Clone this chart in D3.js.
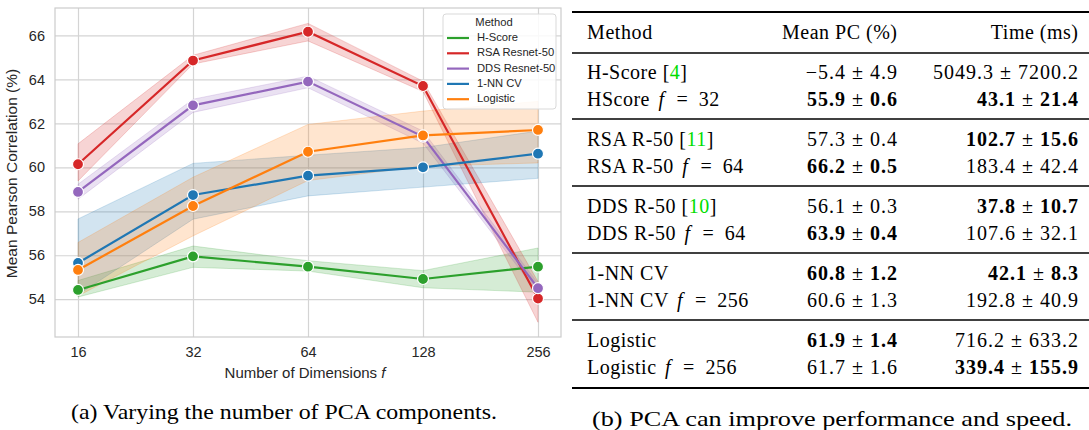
<!DOCTYPE html>
<html>
<head>
<meta charset="utf-8">
<script src="https://cdn.jsdelivr.net/npm/d3@7"></script>
<style>
  body { margin: 0; background: #fff; }
  .tick text { font-family: "Liberation Sans", Arial, sans-serif; fill: #262626; }
  .tbl { font-family: "Liberation Serif", "Times New Roman", serif; fill: #000; }
</style>
</head>
<body>
<svg id="chart" width="1089" height="430"></svg>
<script>
// ---- plot data ----
const dims = [16, 32, 64, 128, 256];
const methods = ["H-Score", "RSA Resnet-50", "DDS Resnet-50", "1-NN CV", "Logistic"];
const colors = ["#2ca02c", "#d62728", "#9467bd", "#1f77b4", "#ff7f0e"];

const hscoreMean = [54.42, 55.95, 55.48, 54.92, 55.48];
const hscoreLo   = [54.10, 55.45, 55.28, 54.52, 54.32];
const hscoreHi   = [54.85, 56.42, 55.75, 55.30, 56.33];

const rsaMean = [60.14, 64.86, 66.17, 63.70, 54.03];
const rsaLo   = [59.38, 64.70, 65.75, 63.45, 52.95];
const rsaHi   = [61.07, 65.10, 66.55, 63.92, 54.80];

const ddsMean = [58.88, 62.82, 63.90, 61.40, 54.50];
const ddsLo   = [58.55, 62.50, 63.62, 61.10, 54.28];
const ddsHi   = [59.23, 63.10, 64.15, 61.65, 54.72];

const knnMean = [55.65, 58.74, 59.62, 60.00, 60.62];
const knnLo   = [54.20, 57.64, 58.70, 59.10, 59.50];
const knnHi   = [57.65, 60.18, 60.55, 60.90, 61.65];

const logMean = [55.33, 58.24, 60.71, 61.45, 61.70];
const logLo   = [54.15, 56.88, 59.40, 60.05, 60.20];
const logHi   = [56.58, 59.55, 61.95, 62.56, 63.00];

const yTicks = [54, 56, 58, 60, 62, 64, 66];

// ---- table data ----
const rowNames = ["H-Score", "HScore", "RSA R-50", "RSA R-50", "DDS R-50", "DDS R-50", "1-NN CV", "1-NN CV", "Logistic", "Logistic"];
const rowCite  = ["4", null, "11", null, "10", null, null, null, null, null];
const rowF     = [null, 32, null, 64, null, 64, null, 256, null, 256];
const pcMean   = [-5.4, 55.9, 57.3, 66.2, 56.1, 63.9, 60.8, 60.6, 61.9, 61.7];
const pcStd    = [4.9, 0.6, 0.4, 0.5, 0.3, 0.4, 1.2, 1.3, 1.4, 1.6];
const pcBold   = [0, 1, 0, 1, 0, 1, 1, 0, 1, 0];
const timeMean = [5049.3, 43.1, 102.7, 183.4, 37.8, 107.6, 42.1, 192.8, 716.2, 339.4];
const timeStd  = [7200.2, 21.4, 15.6, 42.4, 10.7, 32.1, 8.3, 40.9, 633.2, 155.9];
const timeBold = [0, 1, 1, 0, 1, 0, 1, 0, 0, 1];

const series = [
  {mean: hscoreMean, lo: hscoreLo, hi: hscoreHi},
  {mean: rsaMean, lo: rsaLo, hi: rsaHi},
  {mean: ddsMean, lo: ddsLo, hi: ddsHi},
  {mean: knnMean, lo: knnLo, hi: knnHi},
  {mean: logMean, lo: logLo, hi: logHi}
];

const svg = d3.select("#chart");

// plot box
const box = { left: 55, right: 561, top: 8, bottom: 337 };

const x = d3.scaleLog().base(2)
    .domain([16 / Math.pow(2, 0.2), 256 * Math.pow(2, 0.2)])
    .range([box.left, box.right]);
const y = d3.scaleLinear()
    .domain([52.28, 67.25])
    .range([box.bottom, box.top]);

const plot = svg.append("g");

// grid + axes
plot.append("g")
    .attr("transform", `translate(0,${box.bottom})`)
    .call(d3.axisBottom(x).tickValues(dims).tickFormat(d3.format("d"))
        .tickSize(-(box.bottom - box.top)).tickPadding(10))
    .call(g => g.select(".domain").remove())
    .call(g => g.selectAll(".tick line").attr("stroke", "#d4d4d4").attr("stroke-width", 1.2))
    .call(g => g.selectAll(".tick text").attr("font-size", 14.5));

plot.append("g")
    .attr("transform", `translate(${box.left},0)`)
    .call(d3.axisLeft(y).tickValues(yTicks).tickFormat(d3.format("d"))
        .tickSize(-(box.right - box.left)).tickPadding(10))
    .call(g => g.select(".domain").remove())
    .call(g => g.selectAll(".tick line").attr("stroke", "#d4d4d4").attr("stroke-width", 1.2))
    .call(g => g.selectAll(".tick text").attr("font-size", 14.5));

plot.append("rect")
    .attr("x", box.left).attr("y", box.top)
    .attr("width", box.right - box.left).attr("height", box.bottom - box.top)
    .attr("fill", "none").attr("stroke", "#cccccc").attr("stroke-width", 1.2);

// axis titles
plot.append("text")
    .attr("transform", `translate(13,${(box.top + box.bottom) / 2 + 1}) rotate(-90)`)
    .attr("text-anchor", "middle")
    .attr("dominant-baseline", "middle")
    .attr("font-family", "Liberation Sans, Arial, sans-serif")
    .attr("font-size", 15.5)
    .attr("fill", "#262626")
    .text("Mean Pearson Correlation (%)");

const xt = plot.append("text")
    .attr("x", x(64) - 3).attr("y", 378)
    .attr("text-anchor", "middle")
    .attr("font-family", "Liberation Sans, Arial, sans-serif")
    .attr("font-size", 15)
    .attr("fill", "#262626");
xt.append("tspan").text("Number of Dimensions ");
xt.append("tspan").attr("font-style", "italic").text("f");

// bands
const area = d3.area()
    .x((d, i) => x(dims[i]))
    .y0(d => y(d[0]))
    .y1(d => y(d[1]));
const line = d3.line()
    .x((d, i) => x(dims[i]))
    .y(d => y(d));

series.forEach((s, k) => {
  plot.append("path")
      .datum(s.lo.map((v, i) => [v, s.hi[i]]))
      .attr("d", area)
      .attr("fill", colors[k])
      .attr("fill-opacity", 0.2)
      .attr("stroke", colors[k])
      .attr("stroke-opacity", 0.2)
      .attr("stroke-width", 1);
});

series.forEach((s, k) => {
  plot.append("path")
      .datum(s.mean)
      .attr("d", line)
      .attr("fill", "none")
      .attr("stroke", colors[k])
      .attr("stroke-width", 2.2);
  plot.selectAll(null)
      .data(s.mean)
      .enter()
      .append("circle")
      .attr("cx", (d, i) => x(dims[i]))
      .attr("cy", d => y(d))
      .attr("r", 5.5)
      .attr("fill", colors[k])
      .attr("stroke", "#fff")
      .attr("stroke-width", 1.2);
});

// legend
const leg = plot.append("g").attr("transform", "translate(443,14)");
leg.append("rect")
    .attr("width", 113).attr("height", 95).attr("rx", 3)
    .attr("fill", "#fff").attr("fill-opacity", 0.85)
    .attr("stroke", "#d9d9d9").attr("stroke-width", 1);
leg.append("text")
    .attr("x", 51).attr("y", 9)
    .attr("text-anchor", "middle").attr("dominant-baseline", "middle")
    .attr("font-family", "Liberation Sans, Arial, sans-serif")
    .attr("font-size", 11.2).attr("fill", "#262626")
    .text("Method");
methods.forEach((m, k) => {
  const ly = 24 + k * 15.3;
  leg.append("line")
      .attr("x1", 4).attr("x2", 26).attr("y1", ly).attr("y2", ly)
      .attr("stroke", colors[k]).attr("stroke-width", 2.2);
  leg.append("text")
      .attr("x", 34).attr("y", ly)
      .attr("dominant-baseline", "middle")
      .attr("font-family", "Liberation Sans, Arial, sans-serif")
      .attr("font-size", 11.2).attr("fill", "#262626")
      .text(m);
});

// caption (a)
svg.append("text")
    .attr("class", "tbl")
    .attr("x", 71).attr("y", 419)
    .attr("font-size", 22)
    .attr("textLength", 426)
    .attr("lengthAdjust", "spacingAndGlyphs")
    .text("(a) Varying the number of PCA components.");

// ---- table ----
const tbl = svg.append("g").attr("class", "tbl").attr("font-size", 20);
const colMethod = 587, colPC = 897, colTime = 1078;
const tLeft = 572, tRight = 1089;

function rule(yy, w) {
  tbl.append("line")
      .attr("x1", tLeft).attr("x2", tRight)
      .attr("y1", yy).attr("y2", yy)
      .attr("stroke", "#000").attr("stroke-width", w);
}
rule(12, 2.2);
rule(53, 1.4);
[119, 186, 253, 320].forEach(r => rule(r, 1.4));
rule(388, 2.2);

tbl.append("text").attr("class", "tbl").attr("x", colMethod).attr("y", 39)
    .attr("letter-spacing", 0.6).text("Method");
tbl.append("text").attr("class", "tbl").attr("x", colPC + 0.5).attr("y", 39)
    .attr("letter-spacing", 0.5).attr("text-anchor", "end").text("Mean PC (%)");
tbl.append("text").attr("class", "tbl").attr("x", colTime + 0.5).attr("y", 39)
    .attr("letter-spacing", 0.5).attr("text-anchor", "end").text("Time (ms)");

function fmt(v) { return (v < 0 ? "\u2212" : "") + Math.abs(v).toFixed(1); }

function valueCell(xx, yy, m, s, bold) {
  const t = tbl.append("text").attr("class", "tbl")
      .attr("x", xx + 1).attr("y", yy).attr("text-anchor", "end")
      .attr("letter-spacing", 1);
  t.append("tspan").attr("font-weight", bold ? "bold" : "normal").text(fmt(m));
  t.append("tspan").text(" \u00b1 ");
  t.append("tspan").attr("font-weight", bold ? "bold" : "normal").text(fmt(s));
}

rowNames.forEach((name, i) => {
  const g = Math.floor(i / 2), j = i % 2;
  const yy = 79 + 67 * g + 27 * j;
  const t = tbl.append("text").attr("class", "tbl").attr("x", colMethod).attr("y", yy)
      .attr("letter-spacing", 0.5);
  t.append("tspan").text(name);
  if (rowCite[i]) {
    t.append("tspan").text(" [");
    t.append("tspan").attr("fill", "#00dd00").text(rowCite[i]);
    t.append("tspan").text("]");
  }
  if (rowF[i]) {
    t.append("tspan").text(" ");
    t.append("tspan").attr("dx", 3).attr("font-style", "italic").text("f");
    t.append("tspan").attr("dx", 1.5).text("\u2002=\u2002" + rowF[i]);
  }
  valueCell(colPC, yy, pcMean[i], pcStd[i], pcBold[i]);
  valueCell(colTime, yy, timeMean[i], timeStd[i], timeBold[i]);
});

// caption (b)
svg.append("text")
    .attr("class", "tbl")
    .attr("x", 592).attr("y", 426)
    .attr("font-size", 22)
    .attr("textLength", 480)
    .attr("lengthAdjust", "spacingAndGlyphs")
    .text("(b) PCA can improve performance and speed.");
</script>
</body>
</html>
